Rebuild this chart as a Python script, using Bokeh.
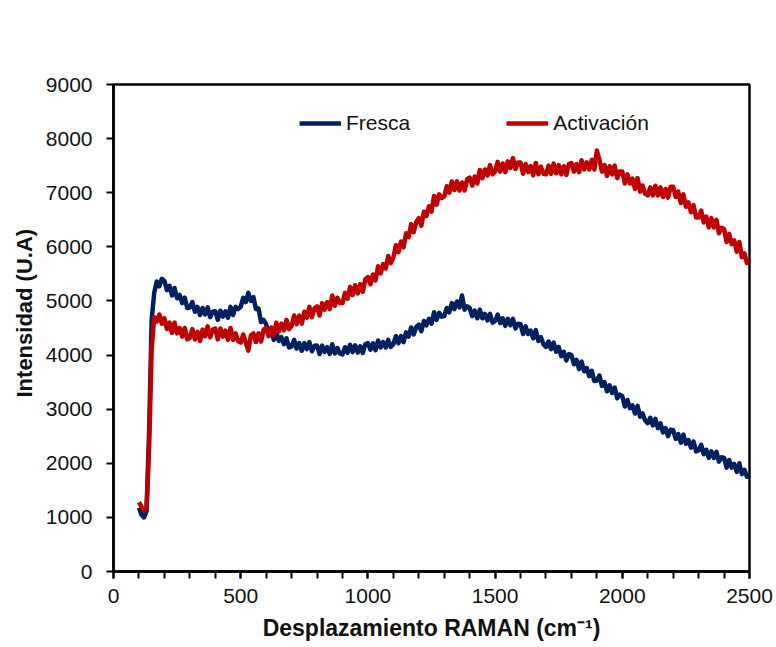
from bokeh.plotting import figure
from bokeh.models import Range1d, FixedTicker, Legend, LegendItem, Title
from bokeh.embed import file_html
from bokeh.resources import INLINE

# Raman shift grid (cm-1), sampled every 10 cm-1
raman_shift = list(range(100, 2501, 10))

fresca = [
    1180, 1050, 1000, 1120, 2600, 4650, 5150, 5360, 5270, 5410,
    5370, 5200, 5280, 5100, 5240, 5050, 5110, 4960, 5060, 4870,
    4880, 4980, 4800, 4890, 4740, 4870, 4750, 4880, 4700, 4800,
    4810, 4650, 4820, 4710, 4810, 4690, 4890, 4740, 4890, 4850,
    4890, 5060, 4980, 5150, 5000, 5070, 4850, 4860, 4610, 4650,
    4570, 4380, 4450, 4280, 4430, 4260, 4330, 4200, 4310, 4140,
    4160, 4280, 4120, 4220, 4080, 4220, 4110, 4240, 4070, 4170,
    4175, 4020, 4175, 4060, 4145, 4020, 4200, 4030, 4130, 4030,
    4010, 4145, 4040, 4190, 4055, 4180, 4045, 4160, 4040, 4200,
    4220, 4100, 4215, 4090, 4270, 4140, 4240, 4140, 4280, 4150,
    4200, 4350, 4220, 4350, 4240, 4420, 4340, 4510, 4380, 4520,
    4560, 4440, 4630, 4550, 4670, 4580, 4790, 4650, 4780, 4710,
    4720, 4870, 4790, 4960, 4850, 4990, 4880, 5100, 4840, 4900,
    4870, 4720, 4820, 4680, 4840, 4680, 4760, 4640, 4760, 4600,
    4630, 4750, 4590, 4680, 4540, 4670, 4550, 4670, 4490, 4580,
    4570, 4390, 4530, 4390, 4450, 4310, 4460, 4260, 4330, 4200,
    4150, 4250, 4110, 4230, 4060, 4150, 3980, 4060, 3900, 4020,
    4000, 3830, 3910, 3740, 3880, 3700, 3760, 3610, 3710, 3520,
    3530, 3620, 3430, 3500, 3330, 3440, 3300, 3400, 3200, 3270,
    3240, 3050, 3170, 3020, 3070, 2920, 3060, 2860, 2920, 2790,
    2740, 2840, 2700, 2820, 2650, 2740, 2570, 2650, 2500, 2620,
    2610, 2450, 2540, 2380, 2530, 2360, 2430, 2290, 2400, 2220,
    2240, 2340, 2170, 2250, 2100, 2220, 2100, 2210, 2030, 2110,
    2100, 1920, 2060, 1920, 1990, 1840, 2000, 1800, 1880, 1750,
    1790,
]

activacion = [
    1280, 1200, 1120, 1180, 2300, 4100, 4700, 4620, 4750, 4580,
    4680, 4480, 4600, 4410, 4600, 4400, 4500, 4340, 4500, 4290,
    4320, 4480, 4290, 4430, 4260, 4470, 4350, 4530, 4330, 4470,
    4490, 4290, 4490, 4340, 4450, 4280, 4500, 4280, 4400, 4260,
    4230, 4380, 4230, 4080, 4360, 4400, 4240, 4400, 4250, 4470,
    4500, 4350, 4510, 4370, 4600, 4440, 4580, 4460, 4650, 4480,
    4540, 4730, 4570, 4730, 4580, 4800, 4690, 4890, 4700, 4860,
    4900, 4730, 4960, 4840, 4980, 4850, 5100, 4910, 5060, 4960,
    4960, 5150, 5040, 5260, 5110, 5290, 5140, 5310, 5170, 5400,
    5440, 5310, 5490, 5380, 5640, 5510, 5680, 5600, 5830, 5700,
    5800, 6030, 5900, 6100, 5990, 6250, 6180, 6420, 6270, 6460,
    6530, 6390, 6650, 6570, 6750, 6650, 6940, 6780, 6970, 6900,
    6930, 7120, 7000, 7210, 7050, 7210, 7040, 7190, 7040, 7250,
    7280, 7130, 7300, 7170, 7420, 7270, 7430, 7320, 7510, 7340,
    7390, 7570, 7390, 7540, 7380, 7580, 7460, 7640, 7440, 7560,
    7560, 7350, 7530, 7380, 7490, 7320, 7550, 7340, 7480, 7350,
    7340, 7500, 7350, 7540, 7360, 7510, 7340, 7490, 7330, 7530,
    7550, 7390, 7530, 7380, 7600, 7430, 7560, 7430, 7610, 7430,
    7780, 7610, 7390, 7510, 7310, 7490, 7340, 7500, 7270, 7390,
    7390, 7170, 7340, 7170, 7260, 7070, 7270, 7020, 7130, 6980,
    6950, 7100, 6950, 7130, 6950, 7100, 6920, 7070, 6910, 7110,
    7110, 6920, 7020, 6810, 6970, 6740, 6820, 6640, 6770, 6540,
    6540, 6670, 6450, 6560, 6360, 6530, 6360, 6500, 6250, 6350,
    6330, 6090, 6240, 6050, 6120, 5910, 6090, 5810, 5880, 5700,
    5740,
]

x_ticks = [0, 500, 1000, 1500, 2000, 2500]
y_ticks = [0, 1000, 2000, 3000, 4000, 5000, 6000, 7000, 8000, 9000]
series_names = ["Fresca", "Activación"]
series_colors = ["#002060", "#C00000"]
x_title = "Desplazamiento RAMAN (cm⁻¹)"
y_title = "Intensidad (U.A)"

FONT = "Liberation Sans"

p = figure(
    width=776, height=647,
    output_backend="svg", toolbar_location=None,
    x_range=Range1d(0, 2500), y_range=Range1d(0, 9000),
    min_border_left=113, min_border_right=27,
    min_border_top=84, min_border_bottom=76,
)
p.background_fill_color = "white"
p.border_fill_color = "white"
p.xgrid.visible = False
p.ygrid.visible = False
p.outline_line_color = "black"
p.outline_line_width = 2.5

p.xaxis.ticker = FixedTicker(ticks=x_ticks, minor_ticks=list(range(0, 2501, 100)))
p.yaxis.ticker = FixedTicker(ticks=y_ticks, minor_ticks=[])

for ax in (p.xaxis[0], p.yaxis[0]):
    ax.axis_line_color = "black"
    ax.axis_line_width = 2.5
    ax.major_tick_line_color = "black"
    ax.major_tick_line_width = 2
    ax.major_tick_in = 0
    ax.major_tick_out = 7
    ax.minor_tick_line_color = "black"
    ax.minor_tick_line_width = 2
    ax.minor_tick_in = 0
    ax.minor_tick_out = 7
    ax.major_label_text_font = FONT
    ax.major_label_text_font_size = "21px"
    ax.major_label_text_color = "#111111"
    ax.axis_label_text_font = FONT
    ax.axis_label_text_font_size = "23px"
    ax.axis_label_text_font_style = "bold"
    ax.axis_label_text_color = "#111111"

p.xaxis.axis_label = x_title
p.xaxis.major_label_standoff = 10
p.yaxis.major_label_standoff = 14
p.xaxis.axis_label_standoff = 9

# y-axis title as a side title (it sits a little above the frame centre in the reference)
p.add_layout(Title(
    text=y_title, align="left", offset=174, standoff=12,
    text_font=FONT, text_font_size="22px", text_font_style="bold",
    text_color="#111111",
), "left")

r_fresca = p.line(raman_shift, fresca, line_color=series_colors[0], line_width=4.5, line_join="round")
r_act = p.line(raman_shift, activacion, line_color=series_colors[1], line_width=4.5, line_join="round")

legend = Legend(
    items=[LegendItem(label=series_names[0], renderers=[r_fresca]),
           LegendItem(label=series_names[1], renderers=[r_act])],
    orientation="horizontal",
    location=(186, 436),
    glyph_width=42, glyph_height=20,
    label_standoff=5, spacing=96, padding=0, margin=0,
    label_text_font=FONT, label_text_font_size="21px", label_text_color="#111111",
    border_line_color=None, background_fill_alpha=0,
)
p.add_layout(legend)

open("out.html", "w").write(file_html(p, INLINE))
